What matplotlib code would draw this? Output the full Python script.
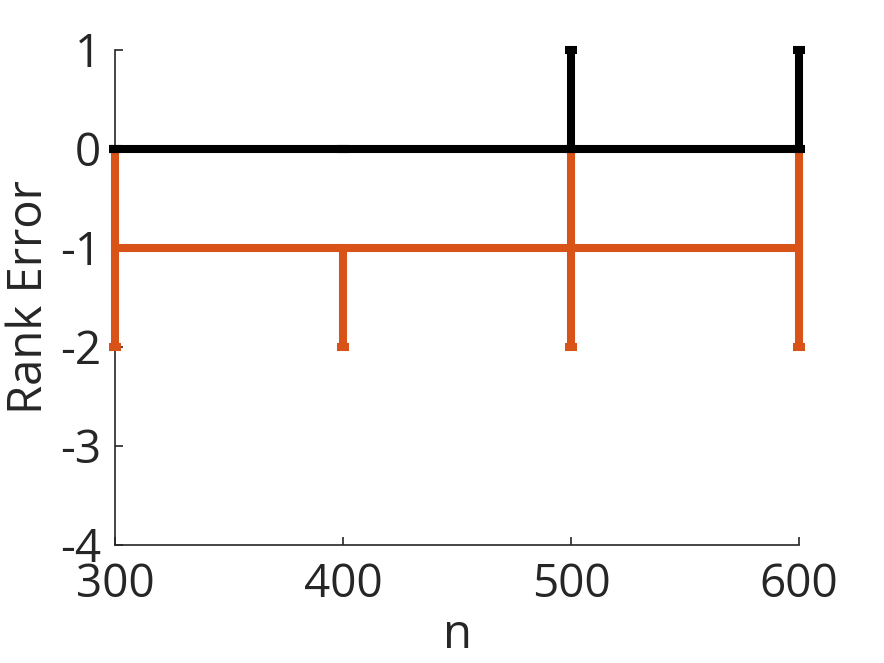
import matplotlib
matplotlib.use("Agg")
import matplotlib.pyplot as plt
import numpy as np

# data
n = [300, 400, 500, 600]
err_black = [0, 0, 0, 0]
black_lo = [0, 0, 0, 0]
black_hi = [0, 0, 1, 1]
err_orange = [-1, -1, -1, -1]
orange_lo = [1, 1, 1, 1]
orange_hi = [1, 0, 1, 1]

plt.rcParams['font.family'] = ['Open Sans', 'DejaVu Sans']

fig = plt.figure(figsize=(8.84, 6.63), dpi=100)
ax = fig.add_axes([0.130, 0.178, 0.774, 0.747])

ax.errorbar(n, err_orange, yerr=[orange_lo, orange_hi], color='#D95319',
            linewidth=5.8, elinewidth=5.8, capsize=4.5, capthick=5.8,
            clip_on=False, zorder=3)
ax.errorbar(n, err_black, yerr=[black_lo, black_hi], color='black',
            linewidth=5.8, elinewidth=5.8, capsize=4.5, capthick=5.8,
            clip_on=False, zorder=4)

ax.set_xlim(300, 600)
ax.set_ylim(-4, 1)
ax.set_xticks(n)
ax.set_yticks([-4, -3, -2, -1, 0, 1])
ax.set_yticklabels(['-4', '-3', '-2', '-1', '0', '1'])

for s in ['top', 'right']:
    ax.spines[s].set_visible(False)
for s in ['left', 'bottom']:
    ax.spines[s].set_color('#262626')
    ax.spines[s].set_linewidth(1.2)

ax.tick_params(direction='in', length=6, width=1.2, colors='#262626',
               labelsize=33)
ax.tick_params(axis='y', pad=10)
ax.tick_params(axis='x', pad=12)
ax.set_xlabel('n', fontsize=34, color='#262626', labelpad=3)
ax.set_ylabel('Rank Error', fontsize=34, color='#262626')
ax.yaxis.set_label_coords(-0.091, 0.5)

fig.savefig('out.png', dpi=100)
